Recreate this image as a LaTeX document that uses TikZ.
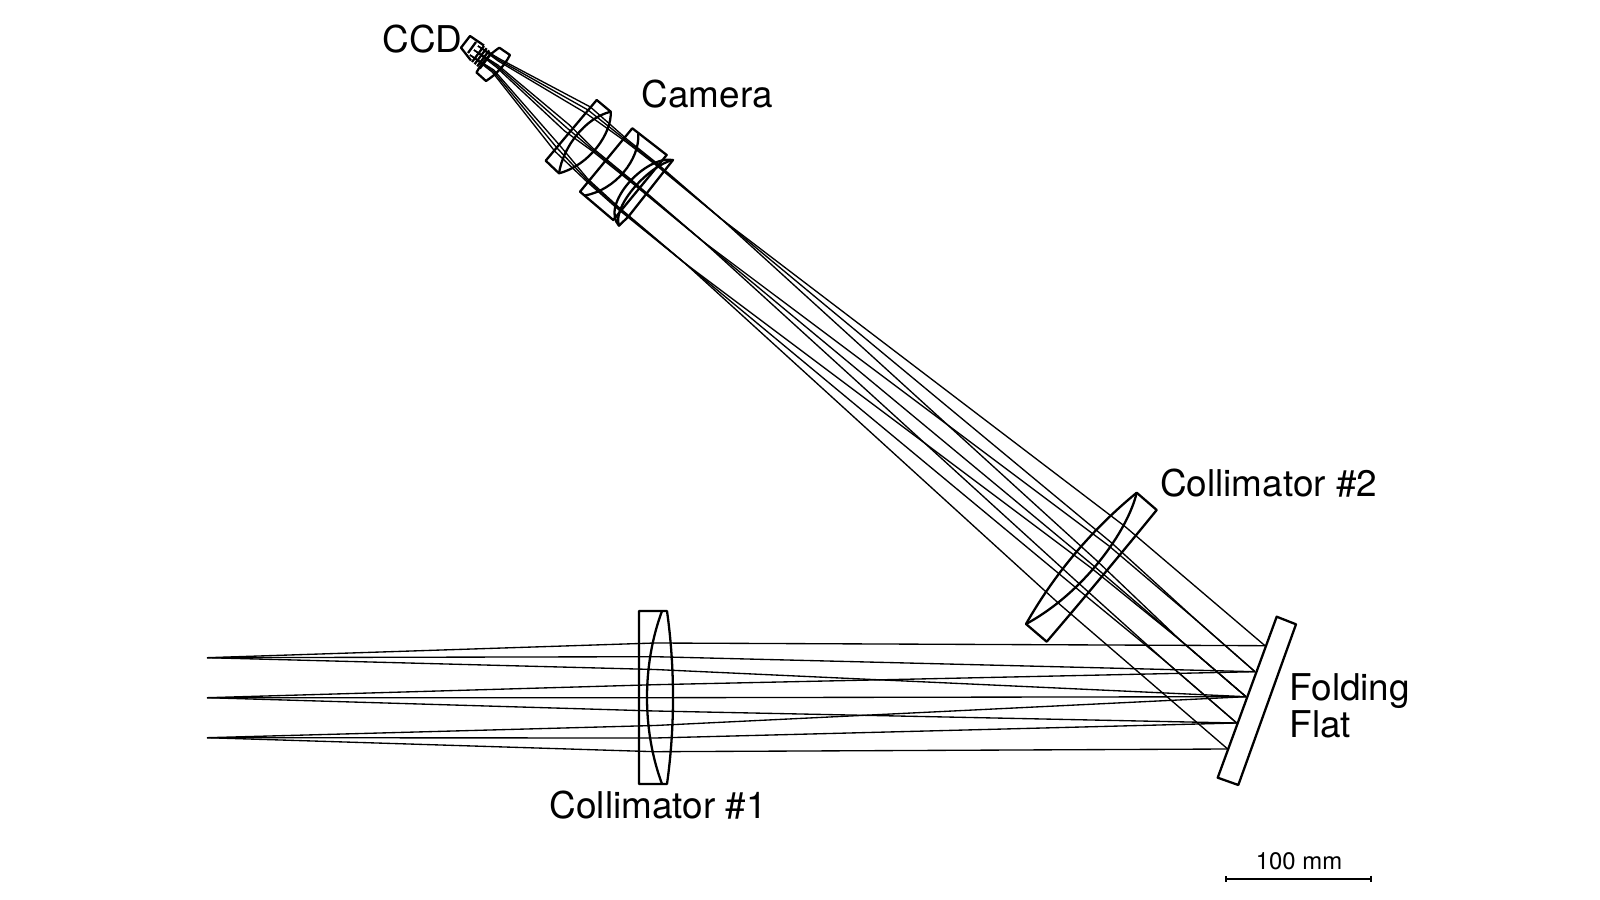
\documentclass[tikz,border=0pt]{standalone}
\usepackage{fontspec}
\setmainfont{TeX Gyre Heros}
\usetikzlibrary{arrows.meta}
\tikzset{
  lens/.style={line width=0.65pt,line join=round},
  ray/.style={line width=0.38pt},
  caption/.style={anchor=base west,inner sep=0pt,font=\fontsize{10.5}{12}\selectfont},
}
\begin{document}
\begin{tikzpicture}[x=0.1mm,y=-0.1mm]
\useasboundingbox (0,0) rectangle (1600,900);
\coordinate (fieldtop) at (207,657.7);
\coordinate (fieldmid) at (207,697.7);
\coordinate (fieldlow) at (207,737.7);
\coordinate (flatA) at (1265,645.7);
\coordinate (flatB) at (1255,671.7);
\coordinate (flatC) at (1246,696.7);
\coordinate (flatD) at (1236.7,723);
\coordinate (flatE) at (1227.7,749);
\coordinate (pinchB) at (1196.7,620.5);
\coordinate (pinchC) at (1180,640);
\coordinate (pinchD) at (1165,661);
\coordinate (waistU) at (721.7,219.3);
\coordinate (waistM) at (703.3,241.7);
\coordinate (waistL) at (685,263.3);
\draw[ray] (fieldtop) -- (655,643) -- (flatA);
\draw[ray] (fieldtop) -- (655,656.7) -- (flatB);
\draw[ray] (fieldtop) -- (655,669.5) -- (flatC);
\draw[ray] (fieldmid) -- (655,684.7) -- (flatB);
\draw[ray] (fieldmid) -- (655,697.7) -- (flatC);
\draw[ray] (fieldmid) -- (655,711) -- (flatD);
\draw[ray] (fieldlow) -- (655,725.5) -- (flatC);
\draw[ray] (fieldlow) -- (655,738) -- (flatD);
\draw[ray] (fieldlow) -- (655,751.7) -- (flatE);
\draw[ray] (flatA) -- (1125,526.5) -- (waistU);
\draw[ray] (flatB) -- (pinchB) -- (1111.3,542.6) -- (waistU);
\draw[ray] (flatC) -- (pinchC) -- (1096.5,560.4) -- (waistU);
\draw[ray] (flatB) -- (pinchB) -- (1108.7,545.7) -- (waistM);
\draw[ray] (flatC) -- (pinchC) -- (1092.7,565) -- (waistM);
\draw[ray] (flatD) -- (pinchD) -- (1078,582.6) -- (waistM);
\draw[ray] (flatC) -- (pinchC) -- (1090.6,567.5) -- (waistL);
\draw[ray] (flatD) -- (pinchD) -- (1074.6,586.7) -- (waistL);
\draw[ray] (flatE) -- (1059.8,604.4) -- (waistL);
\foreach \o in {-1,0,1} {
  \draw[ray] (waistU) -- ({655+.6*\o},{163-.8*\o}) -- ({627+.8*\o},{141-1*\o}) -- ({588+2.4*\o},{110-3*\o}) -- ({499+.8*\o},{60-1*\o}) -- (478,46);
  \draw[ray] (waistM) -- ({630+.6*\o},{180-.8*\o}) -- ({593+.8*\o},{150-1*\o}) -- ({567+2.4*\o},{128-3*\o}) -- ({497+.8*\o},{66-1*\o}) -- (474,50);
  \draw[ray] (waistL) -- ({617+.6*\o},{207-.8*\o}) -- ({587+.8*\o},{180-1*\o}) -- ({557+2.4*\o},{148-3*\o}) -- ({493+.8*\o},{71-1*\o}) -- (470,55);
}
\draw[lens] (639,611) -- (667,611) .. controls (675,668) and (675,727) .. (667,784) -- (639,784) -- cycle;
\draw[lens] (662,611) .. controls (642,665) and (642,730) .. (662,784);
\draw[lens] (1276.7,616.7) -- (1296,624.3) -- (1238.3,785) -- (1217.7,777.7) -- cycle;
\draw[lens] (1136.7,492.7) -- (1156.7,510) .. controls (1120,555) and (1085,597) .. (1046.7,641.7) -- (1026,624) .. controls (1054.8,573.4) and (1091.7,529.7) .. cycle;
\draw[lens] (1136.7,492.7) .. controls (1128,530) and (1085,592) .. (1026,624);
\draw[lens] (596.7,100) -- (610.7,111.7) .. controls (612,133) and (590,165) .. (559,173.3) -- (545.7,160.7) -- cycle;
\draw[lens] (610.7,111.7) .. controls (585,118) and (563,147) .. (559,173.3);
\draw[lens] (632.3,128.3) -- (666.7,155) -- (613.3,220) -- (580,191.7) -- cycle;
\draw[lens] (638.3,133.3) .. controls (640,160) and (615,190) .. (585,195.5);
\draw[lens] (673,160) .. controls (645,155) and (600,205) .. (619,225.7) -- (628.3,216.7) -- cycle;
\draw[lens] (673,160) .. controls (650,165) and (612,205) .. (619,225.7);
\draw[lens] (499.3,47.7) -- (510,55) .. controls (503,68) and (495,75) .. (486,81) -- (476.5,72.5) .. controls (482,62) and (490,54) .. cycle;
\draw[lens] (484,45.5) -- (470,36) -- (461,47.7) -- (471,60.5);
\draw[lens] (476,42) -- (468,53);
\foreach \i in {0,1,2,3} {
  \draw[lens] ({484+2.6*\i},{46+2.2*\i}) -- ({472+2.6*\i},{62+2.2*\i});
}
\node[caption] (ccd) at (382,53) {CCD};
\node[caption] (camera) at (641,108) {Camera};
\node[caption] (collimatortwo) at (1159.5,496.5) {Collimator \#2};
\node[caption] (folding) at (1289,700) {Folding};
\node[caption] (flat) at (1289,737) {Flat};
\node[caption] (collimatorone) at (549,818.5) {Collimator \#1};
\coordinate (barleft) at (1225,878.7);
\coordinate (barright) at (1372,878.7);
\draw[lens,{Bar[width=1.8pt]}-{Bar[width=1.8pt]}] (barleft) -- (barright);
\node[anchor=base,inner sep=0pt,font=\fontsize{6.8}{8}\selectfont] (barlabel) at (1299,869.5) {100 mm};
\end{tikzpicture}
\end{document}
